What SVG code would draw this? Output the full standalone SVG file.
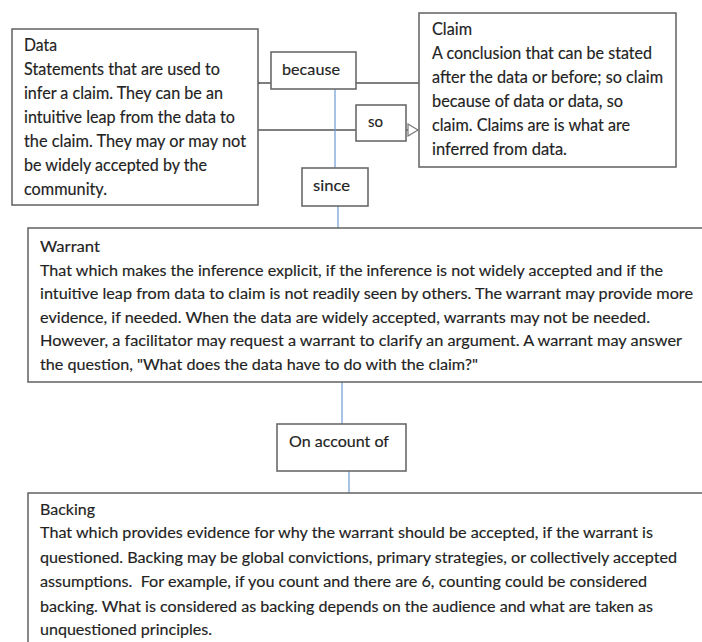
<svg xmlns="http://www.w3.org/2000/svg" width="702" height="642" viewBox="0 0 702 642">
<style>
.box{fill:#fff;stroke:#6a6a6a;stroke-width:1.6}
.t{font-family:Lato,"Open Sans","Liberation Sans",sans-serif;fill:#222;stroke:#222;stroke-width:0.15}
.big{font-size:16.5px}
.mid{font-size:15.5px}
.lbl{font-size:16px}
.conn{stroke:#555;stroke-width:1.3;fill:none}
.blue{stroke:#6f9ad4;stroke-width:1.2;fill:none}
</style>
<defs>
<marker id="vee" markerWidth="12" markerHeight="12" refX="1" refY="6" orient="auto-start-reverse" markerUnits="userSpaceOnUse">
<path d="M9,1 L1,6 L9,11" fill="none" stroke="#555" stroke-width="1.3"/>
</marker>
<marker id="tri" markerWidth="14" markerHeight="14" refX="11" refY="7" orient="auto" markerUnits="userSpaceOnUse">
<path d="M1,1 L11,7 L1,13 Z" fill="#fff" stroke="#777" stroke-width="1.2"/>
</marker>
</defs>
<g id="connectors">
<line class="conn" x1="419" y1="83" x2="259" y2="83" marker-end="url(#vee)"/>
<line class="conn" x1="258" y1="130" x2="418" y2="130" marker-end="url(#tri)"/>
<line class="blue" x1="335" y1="89" x2="335" y2="168"/>
<line class="blue" x1="338" y1="206" x2="338" y2="228"/>
<line class="blue" x1="342" y1="382" x2="342" y2="424"/>
<line class="blue" x1="349" y1="471" x2="349" y2="493"/>
</g>
<g id="data">
<rect class="box" x="12" y="29" width="246" height="176"/>
<text class="t big" x="24" y="51" textLength="33" lengthAdjust="spacingAndGlyphs">Data</text>
<text class="t big" x="24" y="75" textLength="196" lengthAdjust="spacingAndGlyphs">Statements that are used to</text>
<text class="t big" x="24" y="99" textLength="199" lengthAdjust="spacingAndGlyphs">infer a claim. They can be an</text>
<text class="t big" x="24" y="123" textLength="211" lengthAdjust="spacingAndGlyphs">intuitive leap from the data to</text>
<text class="t big" x="24" y="147" textLength="222" lengthAdjust="spacingAndGlyphs">the claim. They may or may not</text>
<text class="t big" x="24" y="171" textLength="183" lengthAdjust="spacingAndGlyphs">be widely accepted by the</text>
<text class="t big" x="24" y="195" textLength="83" lengthAdjust="spacingAndGlyphs">community.</text>
</g>
<g id="claim">
<rect class="box" x="419" y="13" width="257" height="154"/>
<text class="t big" x="432" y="35" textLength="40" lengthAdjust="spacingAndGlyphs">Claim</text>
<text class="t big" x="432" y="59" textLength="220" lengthAdjust="spacingAndGlyphs">A conclusion that can be stated</text>
<text class="t big" x="432" y="83" textLength="231" lengthAdjust="spacingAndGlyphs">after the data or before; so claim</text>
<text class="t big" x="432" y="107" textLength="191" lengthAdjust="spacingAndGlyphs">because of data or data, so</text>
<text class="t big" x="432" y="131" textLength="198" lengthAdjust="spacingAndGlyphs">claim. Claims are is what are</text>
<text class="t big" x="432" y="155" textLength="135" lengthAdjust="spacingAndGlyphs">inferred from data.</text>
</g>
<g id="because">
<rect class="box" x="271" y="52" width="85" height="37"/>
<text class="t lbl" x="282" y="75" textLength="58" lengthAdjust="spacingAndGlyphs">because</text>
</g>
<g id="so">
<rect class="box" x="356" y="105" width="50" height="36"/>
<text class="t lbl" x="368" y="127" textLength="15" lengthAdjust="spacingAndGlyphs">so</text>
</g>
<g id="since">
<rect class="box" x="302" y="168" width="66" height="38"/>
<text class="t lbl" x="313" y="191" textLength="37" lengthAdjust="spacingAndGlyphs">since</text>
</g>
<g id="warrant">
<rect class="box" x="28" y="228" width="690" height="154"/>
<text class="t mid" x="40" y="252" textLength="60" lengthAdjust="spacingAndGlyphs">Warrant</text>
<text class="t mid" x="40" y="276" textLength="623" lengthAdjust="spacingAndGlyphs">That which makes the inference explicit, if the inference is not widely accepted and if the</text>
<text class="t mid" x="40" y="299" textLength="653" lengthAdjust="spacingAndGlyphs">intuitive leap from data to claim is not readily seen by others. The warrant may provide more</text>
<text class="t mid" x="40" y="323" textLength="610" lengthAdjust="spacingAndGlyphs">evidence, if needed. When the data are widely accepted, warrants may not be needed.</text>
<text class="t mid" x="40" y="346" textLength="642" lengthAdjust="spacingAndGlyphs">However, a facilitator may request a warrant to clarify an argument. A warrant may answer</text>
<text class="t mid" x="40" y="370" textLength="438" lengthAdjust="spacingAndGlyphs">the question, "What does the data have to do with the claim?"</text>
</g>
<g id="onaccountof">
<rect class="box" x="277" y="424" width="129" height="47"/>
<text class="t lbl" x="289" y="447" textLength="100" lengthAdjust="spacingAndGlyphs">On account of</text>
</g>
<g id="backing">
<rect class="box" x="28" y="493" width="690" height="170"/>
<text class="t mid" x="40" y="515" textLength="55" lengthAdjust="spacingAndGlyphs">Backing</text>
<text class="t mid" x="40" y="538" textLength="613" lengthAdjust="spacingAndGlyphs">That which provides evidence for why the warrant should be accepted, if the warrant is</text>
<text class="t mid" x="40" y="563" textLength="637" lengthAdjust="spacingAndGlyphs">questioned. Backing may be global convictions, primary strategies, or collectively accepted</text>
<text class="t mid" x="40" y="587" textLength="607" lengthAdjust="spacingAndGlyphs" xml:space="preserve">assumptions.  For example, if you count and there are 6, counting could be considered</text>
<text class="t mid" x="40" y="612" textLength="613" lengthAdjust="spacingAndGlyphs">backing. What is considered as backing depends on the audience and what are taken as</text>
<text class="t mid" x="40" y="635" textLength="172" lengthAdjust="spacingAndGlyphs">unquestioned principles.</text>
</g>
</svg>
